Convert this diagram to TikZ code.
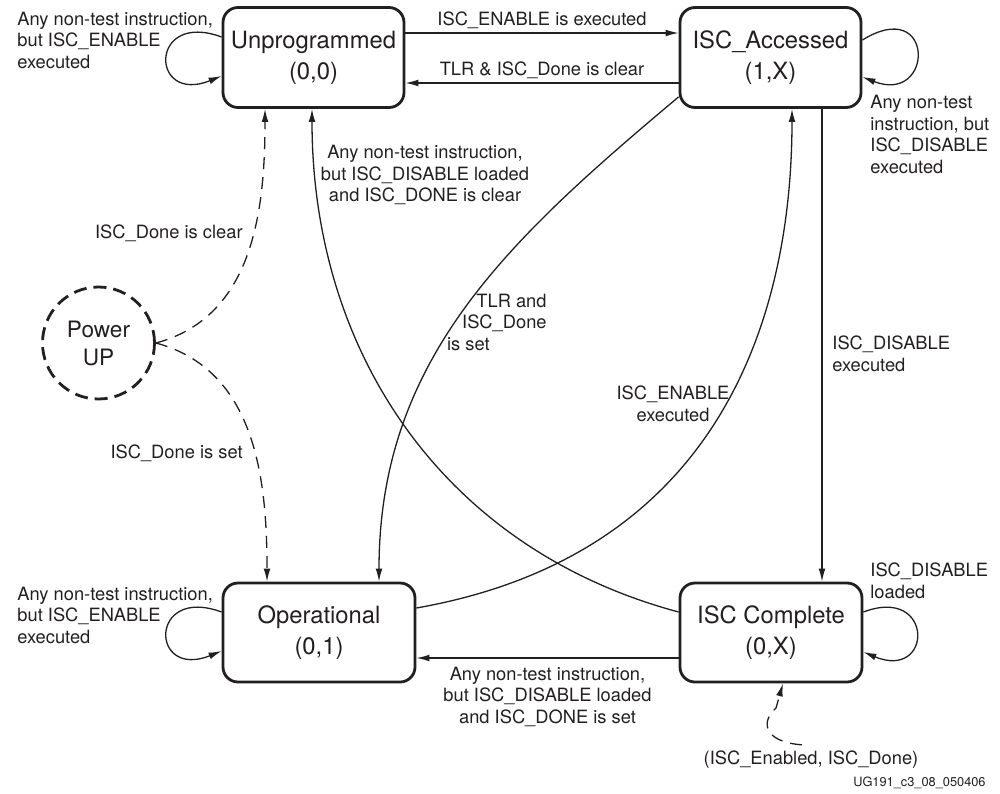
\documentclass[tikz,border=0pt]{standalone}
\usepackage{fontspec}
\setmainfont{TeX Gyre Heros}
\usetikzlibrary{arrows.meta, positioning}
\definecolor{FSMInk}{HTML}{231F20}

\begin{document}
\begin{tikzpicture}[
    x=0.5pt, y=-0.5pt,
    color=FSMInk,
    font=\fontsize{9.15pt}{10.75pt}\selectfont,
    >={Latex[length=6.5pt, width=3.4pt]},
    % State styles
    statebox/.style={draw, line width=1.4pt, rounded corners=7.5pt, align=center, inner sep=0pt,
        minimum height=50pt, font=\fontsize{11.9pt}{15.5pt}\selectfont},
    powerstate/.style={circle, draw, line width=1.4pt, dash pattern=on 6.5pt off 3.5pt,
        minimum size=56pt, inner sep=0pt, align=center, font=\fontsize{11.3pt}{14pt}\selectfont},
    % Transition styles
    trans/.style={draw, line width=0.65pt, ->},
    dashtrans/.style={trans, dash pattern=on 6pt off 4pt},
    lbl/.style={inner sep=0pt, align=left}
]
    \useasboundingbox (0,0) rectangle (1000,793);

    % ==========================================
    % STATES
    % ==========================================
    \node[statebox, minimum width=90.5pt] (unprog) at (313.5,57.5) {Unprogrammed\\(0,0)};
    \node[statebox, minimum width=90.5pt] (access) at (770.5,57.5) {ISC\_Accessed\\(1,X)};
    \node[statebox, minimum width=96pt, minimum height=49.5pt] (oper) at (319,632.5) {Operational\\(0,1)};
    \node[statebox, minimum width=91pt, minimum height=49.5pt] (complete) at (771,632.5) {ISC Complete\\(0,X)};
    \node[powerstate] (power) at (98.5,343) {Power\\UP};

    % ==========================================
    % TOP ROW: Unprogrammed <-> ISC_Accessed
    % ==========================================
    \draw[trans] ([yshift=12.25pt]unprog.east) -- ([yshift=12.25pt]access.west)
        node[midway, above=2pt, lbl] {ISC\_ENABLE is executed};
    \draw[trans] ([yshift=-12.75pt]access.west) -- ([yshift=-12.75pt]unprog.east)
        node[midway, above=2pt, lbl] {TLR \& ISC\_Done is clear};

    % Self loops
    \draw[trans] ([yshift=10.25pt]unprog.west) .. controls +(-36.5pt,13.5pt) and +(-36pt,-14.5pt) .. ([yshift=-9.25pt]unprog.west);
    \node[lbl, anchor=west] (unprogloop) at (17,40) {Any non-test instruction,\\but ISC\_ENABLE\\executed};

    \draw[trans] ([yshift=8.75pt]access.east) .. controls +(36.5pt,22.5pt) and +(36pt,-14pt) .. ([yshift=-9.75pt]access.east);
    \node[lbl, anchor=west] (accessloop) at (870,134.5) {Any non-test\\instruction, but\\ISC\_DISABLE\\executed};

    \draw[trans] ([yshift=10.25pt]oper.west) .. controls +(-36.5pt,13.5pt) and +(-36pt,-14.5pt) .. ([yshift=-9.25pt]oper.west);
    \node[lbl, anchor=west] (operloop) at (17,615) {Any non-test instruction,\\but ISC\_ENABLE\\executed};

    \draw[trans] ([yshift=10.25pt]complete.east) .. controls +(35.5pt,13.5pt) and +(35pt,-14.5pt) .. ([yshift=-9.75pt]complete.east);
    \node[lbl, anchor=west] (completeloop) at (870,581) {ISC\_DISABLE\\loaded};

    % ==========================================
    % POWER UP
    % ==========================================
    \draw[dashtrans] (power.east) to[out=15, in=-90] ([xshift=-24.25pt]unprog.south);
    \node[lbl, anchor=east] (doneclear) at (243,233) {ISC\_Done is clear};

    \draw[dashtrans] (power.east) to[out=-15, in=90] ([xshift=-26pt]oper.north);
    \node[lbl, anchor=east] (doneset) at (243,453) {ISC\_Done is set};

    % ==========================================
    % CROSSING CURVES
    % ==========================================
    \draw[trans] ([yshift=10.25pt]complete.west) to[out=165, in=-90] ([xshift=-0.75pt]unprog.south);
    \node[lbl, align=center] (disclear) at (425,175) {Any non-test instruction,\\but ISC\_DISABLE loaded\\and ISC\_DONE is clear};

    \draw[trans] ([yshift=6pt]access.south west) to[out=220, in=90] ([xshift=30pt]oper.north);
    \node[lbl, align=right, anchor=east] (tlrset) at (547,322) {TLR and\\ISC\_Done\\is set\hspace*{28.5pt}};

    \draw[trans] ([yshift=12.25pt]oper.east) to[out=10, in=-90, out looseness=1.3, in looseness=0.8] ([xshift=10.75pt]access.south);
    \node[lbl, align=center] (enexec) at (673,404) {ISC\_ENABLE\\executed};

    % ==========================================
    % RIGHT COLUMN + BOTTOM ROW
    % ==========================================
    \draw[trans] ([xshift=25.75pt]access.south) -- ([xshift=25.75pt]access.south |- complete.north);
    \node[lbl, anchor=west] (disexec) at (832,354) {ISC\_DISABLE\\executed};

    \draw[trans] ([yshift=-12.75pt]complete.west) -- ([yshift=-12.75pt]oper.east)
        node[midway, below=4pt, lbl, align=center] {Any non-test instruction,\\but ISC\_DISABLE loaded\\and ISC\_DONE is set};

    % Legend
    \node[lbl] (legend) at (811,760) {(ISC\_Enabled, ISC\_Done)};
    \draw[dashtrans] ([xshift=-4.5pt, yshift=3pt]legend.north) .. controls (764,742) and (760,722) .. (776,708) -- ([xshift=6pt]complete.south);

    \node[lbl, anchor=east, font=\fontsize{6.4pt}{8pt}\selectfont] (figid) at (986,783) {UG191\_c3\_08\_050406};

\end{tikzpicture}
\end{document}
